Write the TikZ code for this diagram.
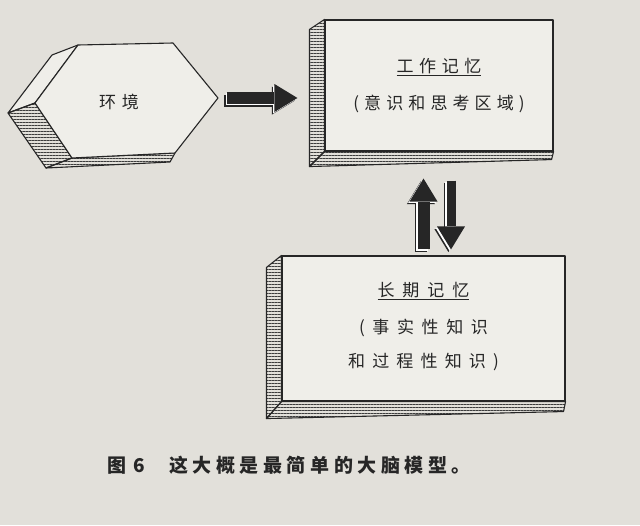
\documentclass[tikz,border=0pt]{standalone}
\usepackage{fontspec}
\usetikzlibrary{calc,arrows.meta,patterns.meta}
\newfontfamily\cjk{Noto Sans CJK SC}
\definecolor{paper}{RGB}{226,224,218}
\definecolor{facecol}{RGB}{239,238,233}
\definecolor{ink}{RGB}{38,38,38}
\definecolor{hatchcol}{RGB}{60,60,60}

\begin{document}
\begin{tikzpicture}[x=1pt, y=-1pt, line join=round,
  face/.style={draw=ink, line width=1.1pt, fill=facecol},
  hatch/.style={draw=ink, line width=1.1pt, pattern={Lines[angle=0,distance=3pt,line width=1pt]}, pattern color=hatchcol},
  label/.style={text=ink, align=center, font=\cjk\fontsize{17}{20}\selectfont},
  fatarrow/.style={line width=#1, -{Triangle[length=23pt,width=28pt,line width=0pt]}}]

\path[fill=paper] (0,0) rectangle (640,525);

% environment
\coordinate (e1) at (78,45);
\coordinate (e2) at (173,43);
\coordinate (envtip) at (218,98);
\coordinate (e4) at (175,153);
\coordinate (e5) at (72,158);
\coordinate (e6) at (35,103);
\draw[face] (e1) -- (52,55) -- (8,113) -- (e6) -- cycle;
\draw[hatch] (e6) -- (8,113) -- (46,168) -- (e5) -- cycle;
\draw[hatch] (e5) -- (46,168) -- (170,162) -- (e4) -- cycle;
\draw[face] (e1) -- (e2) -- (envtip) -- (e4) -- (e5) -- (e6) -- cycle;
\node[label] (env) at (119,102) {\addfontfeatures{LetterSpace=35}环境};

% working memory
\node[face, minimum width=228, minimum height=131] (wm) at (439,85.5) {};
\node[label] (wmtext) at (wm.center) {\addfontfeatures{LetterSpace=33}\underline{工作记忆}\\[17pt]
  \addfontfeatures{LetterSpace=30}(意识和思考区域)};
\draw[hatch] (wm.north west) -- ++(-15,10) -- ($(wm.south west)+(-15,15)$) -- (wm.south west) -- cycle;
\draw[hatch] (wm.south west) -- ++(-15,15) -- ($(wm.south east)+(-2,8)$) -- (wm.south east) -- cycle;

% long-term memory
\node[face, minimum width=283, minimum height=145] (ltm) at (423.5,328.5) {};
\node[label] (ltmtext) at ([yshift=2pt]ltm.center) {\addfontfeatures{LetterSpace=47}\underline{长期记忆}\\[17pt]
  \addfontfeatures{LetterSpace=45}(事实性知识\\[14pt]
  \addfontfeatures{LetterSpace=42}和过程性知识)};
\draw[hatch] (ltm.north west) -- ++(-15,12) -- ($(ltm.south west)+(-15,17)$) -- (ltm.south west) -- cycle;
\draw[hatch] (ltm.south west) -- ++(-15,17) -- ($(ltm.south east)+(-2,10)$) -- (ltm.south east) -- cycle;

% arrows (dark outline, white rim, dark body)
\foreach \s/\c in {2.6/ink, 1.4/white, 0/ink} {
  \begin{scope}[transform canvas={xshift=-\s pt, yshift=-\s pt}]
  \draw[fatarrow=12pt, draw=\c, shorten <=9pt, shorten >=27pt] (envtip) -- (envtip -| wm.west);
  \draw[fatarrow=12pt, draw=\c, shorten <=6pt, shorten >=27pt] (ltm.north) -- (ltm.north |- wm.south);
  \draw[fatarrow=9pt, draw=\c, shorten <=29pt, shorten >=6pt] ([xshift=12pt]wm.south) -- ([xshift=12pt]wm.south |- ltm.north);
  \end{scope}
}

% caption
\node[anchor=west, text=ink, font=\cjk\bfseries\fontsize{19}{22}\selectfont] (caption) at (104,465)
  {图\hspace{7pt}6\hspace{24pt}\addfontfeatures{LetterSpace=24}这大概是最简单的大脑模型。};

\end{tikzpicture}
\end{document}
